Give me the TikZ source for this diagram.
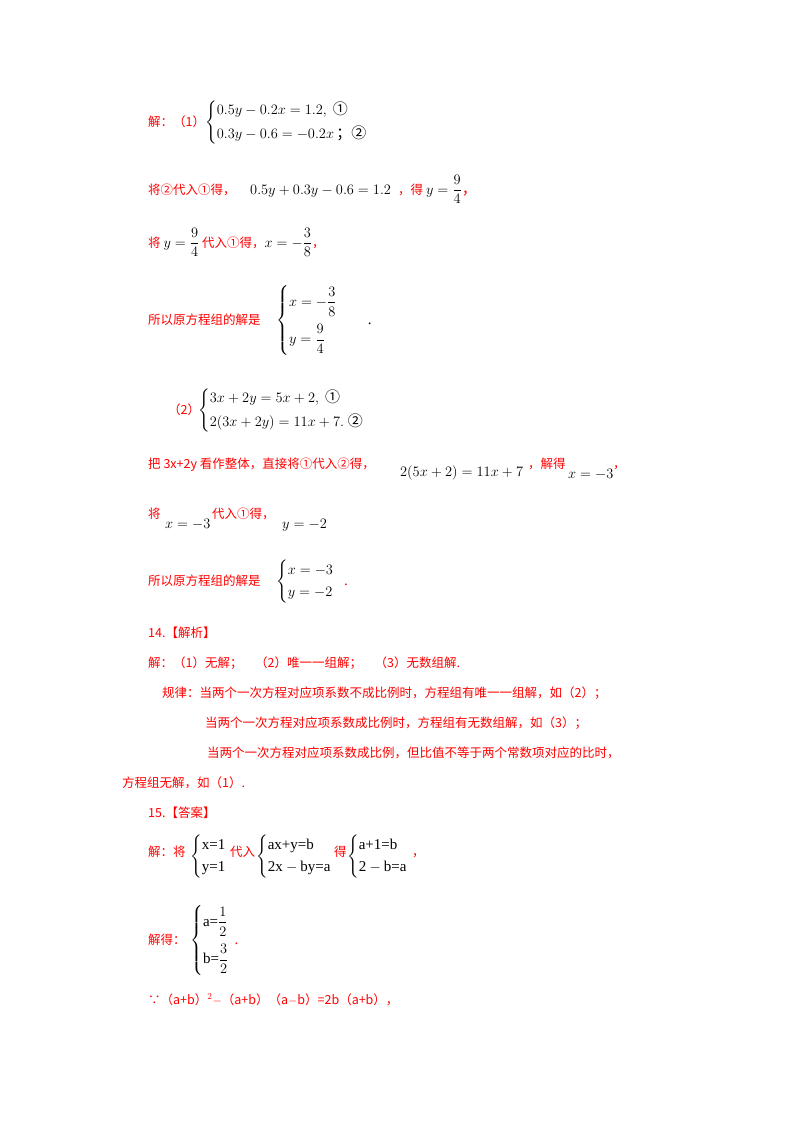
\documentclass[tikz,border=0pt]{standalone}
\usepackage{fontspec}
\usepackage{amsmath}
\setmainfont{Liberation Serif}
\newfontfamily\cjk{Noto Sans CJK SC}
\begin{document}
\begin{tikzpicture}[x=1pt,y=-1pt,
  tx/.style={anchor=base west,inner sep=0pt,font=\fontsize{12.5}{15}\selectfont},
  rd/.style={tx,text=red},
  bk/.style={anchor=base west,inner sep=0pt,text=black,font=\fontsize{15}{18}\selectfont}]
\useasboundingbox[fill=white] (0,0) rectangle (800,1132);
\node[rd] (a1) at (148,126) {\cjk 解：（1）};
\node[bk] (a2) at (205,126) {$\begin{cases}0.5y-0.2x=1.2,\ \text{\cjk ①}\\[2pt] 0.3y-0.6=-0.2x\,\text{\cjk ；②}\end{cases}$};
\node[rd] (b1) at (148,194) {\cjk 将②代入①得，};
\node[bk] (b2) at (250,194) {$0.5y+0.3y-0.6=1.2$};
\node[rd] (b3) at (398,194) {\cjk ，得 \color{black}\fontsize{15}{18}\selectfont$y=\dfrac{9}{4}$\color{red}，};
\node[rd] (c1) at (148,247) {\cjk 将 \color{black}{\fontsize{15}{18}\selectfont$y=\dfrac{9}{4}$} \color{red}代入①得，\color{black} {\fontsize{15}{18}\selectfont$x=-\dfrac{3}{8}$}\color{red}，};
\node[rd] (d1) at (148,324) {\cjk 所以原方程组的解是};
\node[bk] (d2) at (276,324) {$\begin{cases}x=-\dfrac{3}{8}\\[12pt] y=\dfrac{9}{4}\end{cases}$\quad.};
\node[rd] (e1) at (168,414) {\cjk （2）};
\node[bk] (e2) at (198,414) {$\begin{cases}3x+2y=5x+2,\ \text{\cjk ①}\\[2pt] 2(3x+2y)=11x+7.\ \text{\cjk ②}\end{cases}$};
\node[rd] (f1) at (148,468) {\cjk 把 3x+2y 看作整体，直接将①代入②得，};
\node[bk] (f2) at (400,476) {$2(5x+2)=11x+7$};
\node[rd] (f3) at (528,468) {\cjk ，解得};
\node[bk] (f4) at (568,478) {$x=-3$};
\node[rd] (f5) at (613,468) {\cjk ，};
\node[rd] (g1) at (148,518) {\cjk 将};
\node[bk] (g2) at (165,528) {$x=-3$};
\node[rd] (g3) at (212,518) {\cjk 代入①得，};
\node[bk] (g4) at (282,528) {$y=-2$};
\node[rd] (h1) at (148,585) {\cjk 所以原方程组的解是};
\node[bk] (h2) at (276,585) {$\begin{cases}x=-3\\ y=-2\end{cases}$\!\!\color{red}.};
\node[rd] (i1) at (148,637) {\cjk 14.【解析】};
\node[rd] (i2) at (148,667) {\cjk 解：（1）无解；\quad（2）唯一一组解；\quad（3）无数组解.};
\node[rd] (i3) at (162,697) {\cjk 规律：当两个一次方程对应项系数不成比例时，方程组有唯一一组解，如（2）；};
\node[rd] (i4) at (205,727) {\cjk 当两个一次方程对应项系数成比例时，方程组有无数组解，如（3）；};
\node[rd] (i5) at (207,757) {\cjk 当两个一次方程对应项系数成比例，但比值不等于两个常数项对应的比时，};
\node[rd] (i6) at (122,787) {\cjk 方程组无解，如（1）.};
\node[rd] (j1) at (148,817) {\cjk 15.【答案】};
\node[rd] (k1) at (148,856) {\cjk 解：将};
\node[bk] (k2) at (190,860) {$\begin{cases}\text{x=1}\\ \text{y=1}\end{cases}$};
\node[rd] (k3) at (230,856) {\cjk 代入};
\node[bk] (k4) at (256,860) {$\begin{cases}\text{ax+y=b}\\ \text{2x}-\text{by=a}\end{cases}$};
\node[rd] (k5) at (334,856) {\cjk 得};
\node[bk] (k6) at (347,860) {$\begin{cases}\text{a+1=b}\\ \text{2}-\text{b=a}\end{cases}$};
\node[rd] (k7) at (412,856) {\cjk ，};
\node[rd] (l1) at (148,944) {\cjk 解得：};
\node[bk] (l2) at (190,944) {$\begin{cases}\text{a=}\dfrac{1}{2}\\[12pt] \text{b=}\dfrac{3}{2}\end{cases}$\!\!\!\!\color{red}.};
\node[rd] (m1) at (148,1004) {\cjk ∵（a+b）$^{2}-$（a+b）（a$-$b）=2b（a+b），};
\end{tikzpicture}
\end{document}
